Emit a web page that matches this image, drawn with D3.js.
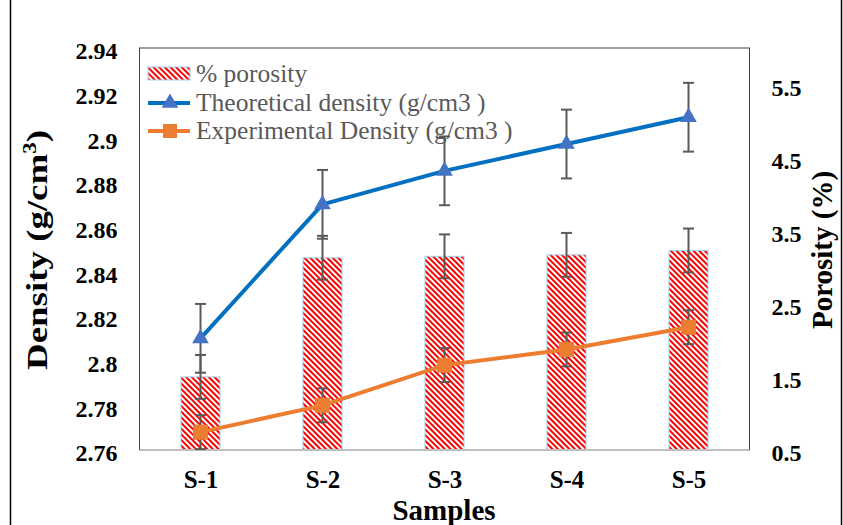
<!DOCTYPE html>
<html><head><meta charset="utf-8">
<script src="https://cdn.jsdelivr.net/npm/d3@7"></script>
<style>body{margin:0;background:#fff}svg{display:block}</style>
</head><body><svg id="c" width="843" height="525"></svg>
<script>
const categories = ["S-1","S-2","S-3","S-4","S-5"];
const porosity = [1.5, 3.13, 3.15, 3.17, 3.23];
const porosityErr = [0.3, 0.3, 0.3, 0.3, 0.3];
const theoretical = [2.81, 2.87, 2.885, 2.897, 2.909];
const theoreticalErr = [0.0154, 0.0154, 0.0154, 0.0154, 0.0154];
const experimental = [2.768, 2.78, 2.798, 2.805, 2.815];
const experimentalErr = [0.0076, 0.0076, 0.0076, 0.0076, 0.0076];
const leftTicks = [2.76, 2.78, 2.8, 2.82, 2.84, 2.86, 2.88, 2.9, 2.92, 2.94];
const leftTickLabels = ["2.76","2.78","2.8","2.82","2.84","2.86","2.88","2.9","2.92","2.94"];
const rightTicks = [0.5, 1.5, 2.5, 3.5, 4.5, 5.5];
const rightTickLabels = ["0.5","1.5","2.5","3.5","4.5","5.5"];
const legendLabels = ["% porosity", "Theoretical density (g/cm3 )", "Experimental Density (g/cm3 )"];

const svg = d3.select("#c");
const L = 139.5, R = 749.5, T = 48, B = 450;
const serif = "'Liberation Serif','Times New Roman',serif";

const defs = svg.append("defs");
const pat = defs.append("pattern").attr("id","hatch").attr("patternUnits","userSpaceOnUse")
  .attr("width",4).attr("height",4).attr("patternTransform","rotate(-45)");
pat.append("rect").attr("width",4).attr("height",4).attr("fill","#fff");
pat.append("rect").attr("width",2).attr("height",4).attr("fill","#ff0000");

const xBand = d3.scaleBand().domain(categories).range([L, R]).paddingInner(0.68).paddingOuter(0.34);
const xPt = d3.scalePoint().domain(categories).range([L, R]).padding(0.5);
const yL = d3.scaleLinear().domain([2.76, 2.94]).range([B, T]);
const yR = d3.scaleLinear().domain([0.5, 6.0]).range([B, T]);

// outer chart border (left / right)
svg.append("line").attr("x1",10.5).attr("x2",10.5).attr("y1",0).attr("y2",525).attr("stroke","#000").attr("stroke-width",1.5);
svg.append("line").attr("x1",841.5).attr("x2",841.5).attr("y1",0).attr("y2",525).attr("stroke","#000").attr("stroke-width",1.5);

// plot area border
svg.append("rect").attr("x",L).attr("y",T).attr("width",R-L).attr("height",B-T)
  .attr("fill","none").attr("stroke","#404040").attr("stroke-width",1);

// bars
svg.append("g").selectAll("rect").data(categories).join("rect")
  .attr("x", d => xBand(d)).attr("width", xBand.bandwidth())
  .attr("y", (d,i) => yR(porosity[i])).attr("height", (d,i) => B - yR(porosity[i]))
  .attr("fill","url(#hatch)").attr("stroke","#9dd4f0").attr("stroke-width",1);

// bottom axis line
svg.append("line").attr("x1",L).attr("x2",R).attr("y1",B).attr("y2",B).attr("stroke","#bfbfbf").attr("stroke-width",2);

function errBars(vals, errs, scale) {
  const g = svg.append("g").attr("stroke","#595959").attr("stroke-width",2).attr("fill","none");
  categories.forEach((c,i) => {
    const x = xPt(c), y1 = scale(vals[i]+errs[i]), y2 = scale(vals[i]-errs[i]);
    g.append("line").attr("x1",x).attr("x2",x).attr("y1",y1).attr("y2",y2);
    g.append("line").attr("x1",x-5.5).attr("x2",x+5.5).attr("y1",y1).attr("y2",y1);
    g.append("line").attr("x1",x-5.5).attr("x2",x+5.5).attr("y1",y2).attr("y2",y2);
  });
}
errBars(porosity, porosityErr, yR);
errBars(theoretical, theoreticalErr, yL);
errBars(experimental, experimentalErr, yL);

const line = d3.line().x((d,i) => xPt(categories[i])).y(d => yL(d));
svg.append("path").datum(theoretical).attr("d", line).attr("fill","none").attr("stroke","#0070c0").attr("stroke-width",4).attr("stroke-linejoin","round");
svg.append("path").datum(experimental).attr("d", line).attr("fill","none").attr("stroke","#ed7d31").attr("stroke-width",4).attr("stroke-linejoin","round");

const tri = d3.symbol().type(d3.symbolTriangle).size(120);
svg.append("g").selectAll("path").data(theoretical).join("path")
  .attr("d", tri).attr("transform", (d,i) => `translate(${xPt(categories[i])},${yL(d)})`).attr("fill","#4472c4");
svg.append("g").selectAll("rect").data(experimental).join("rect")
  .attr("x", (d,i) => xPt(categories[i]) - 7.5).attr("y", d => yL(d) - 7.5)
  .attr("width",15).attr("height",15).attr("fill","#ed7d31");

// axes
const axL = svg.append("g").attr("transform",`translate(${L},3)`)
  .call(d3.axisLeft(yL).tickValues(leftTicks).tickSize(0).tickPadding(22).tickFormat((d,i) => leftTickLabels[i]));
const axR = svg.append("g").attr("transform",`translate(${R},3)`)
  .call(d3.axisRight(yR).tickValues(rightTicks).tickSize(0).tickPadding(22).tickFormat((d,i) => rightTickLabels[i]));
const axB = svg.append("g").attr("transform",`translate(0,${B})`)
  .call(d3.axisBottom(xPt).tickSize(0).tickPadding(20));
[axL, axR, axB].forEach(a => {
  a.attr("font-family", serif);
  a.select(".domain").remove();
  a.selectAll("text").attr("font-family", serif).attr("font-weight","bold").attr("font-size",24).attr("fill","#000");
});
axB.selectAll("text").attr("font-size",25);

// titles
svg.append("text").attr("x", 444).attr("y", 520).attr("text-anchor","middle")
  .attr("font-family",serif).attr("font-weight","bold").attr("font-size",29).text("Samples");
const dt = svg.append("text").attr("transform","translate(47,250) rotate(-90)").attr("text-anchor","middle")
  .attr("font-family",serif).attr("font-weight","bold").attr("font-size",29)
  .attr("textLength",240).attr("lengthAdjust","spacingAndGlyphs");
dt.append("tspan").text("Density (g/cm");
dt.append("tspan").attr("font-size",18).attr("dy",-11).text("3");
dt.append("tspan").attr("dy",11).text(")");
svg.append("text").attr("transform","translate(832,250) rotate(-90)").attr("text-anchor","middle")
  .attr("font-family",serif).attr("font-weight","bold").attr("font-size",29).text("Porosity (%)");

// legend
const lg = svg.append("g");
const rows = [74, 103, 131];
lg.append("rect").attr("x",148).attr("y",67).attr("width",42).attr("height",13)
  .attr("fill","url(#hatch)").attr("stroke","#9dd4f0").attr("stroke-width",1);
lg.append("line").attr("x1",148).attr("x2",190).attr("y1",rows[1]).attr("y2",rows[1]).attr("stroke","#0070c0").attr("stroke-width",4);
lg.append("path").attr("d",tri).attr("transform",`translate(170,${rows[1]})`).attr("fill","#4472c4");
lg.append("line").attr("x1",148).attr("x2",190).attr("y1",rows[2]).attr("y2",rows[2]).attr("stroke","#ed7d31").attr("stroke-width",4);
lg.append("rect").attr("x",163).attr("y",rows[2]-7).attr("width",14).attr("height",14).attr("fill","#ed7d31");
lg.selectAll("text").data(legendLabels).join("text")
  .attr("x",196).attr("y",(d,i) => rows[i] + 8)
  .attr("font-family",serif).attr("font-size",25.5).attr("fill","#595959").text(d => d);
</script></body></html>
